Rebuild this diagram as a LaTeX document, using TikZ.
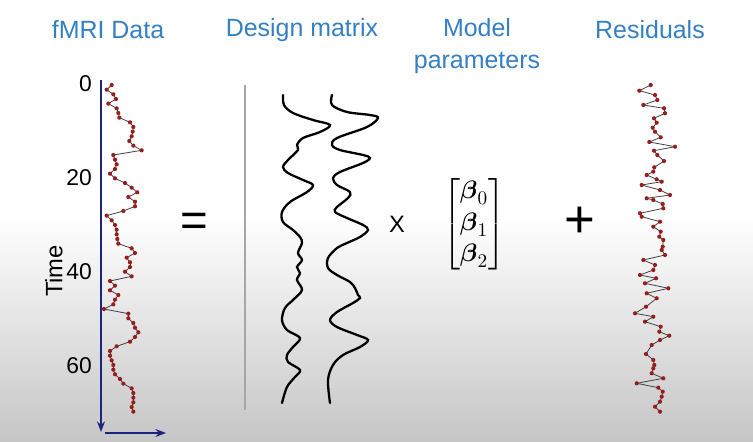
\documentclass[tikz,border=0pt]{standalone}
\usepackage{amsmath}
\usepackage{fontspec}
\setmainfont{Liberation Sans}
\usetikzlibrary{arrows.meta}

\definecolor{titleblue}{RGB}{52,128,196}
\definecolor{axisnavy}{RGB}{28,36,128}
\definecolor{dotred}{RGB}{150,30,30}

% fMRI samples, one per time step
\newcommand{\fmrivals}{335,320,340,348,325,350,355,358,390,400,398,395,388,400,425,340,345,350,345,330,345,375,395,412,385,405,405,370,320,335,345,350,350,352,355,395,405,380,390,390,375,395,330,345,330,355,345,340,312,385,385,400,405,415,405,390,350,330,330,335,340,340,345,360,370,395,400,400,400,395,400}

\begin{document}
\begin{tikzpicture}[x=0.02cm,y=-0.02cm]
  \tikzstyle{title}=[text=titleblue,font=\fontsize{14.2}{18}\selectfont,align=center]
  \tikzstyle{tick}=[anchor=east,font=\fontsize{13}{15}\selectfont]
  \tikzstyle{series}=[gray!50!black,line width=0.45pt]
  \tikzstyle{reddot}=[fill=dotred]
  \tikzstyle{wave}=[line width=1.3pt,line cap=round]
  \tikzstyle{axis}=[axisnavy,line width=1.3pt]

  % background
  \fill[white] (0,0) rectangle (753,442);
  \shade[top color=white,bottom color=gray!45] (0,215) rectangle (753,442);
  \useasboundingbox (0,0) rectangle (753,442);

  % titles
  \node[title] (data) at (108,30) {fMRI Data};
  \node[title] (design) at (302,30) {Design matrix};
  \node[title] (params) at (477,46) {Model\\parameters};
  \node[title] (resid) at (650,30) {Residuals};

  % axes
  \coordinate (ytop) at (101,80);
  \coordinate (origin) at (101,432);
  \coordinate (xstart) at (105,433);
  \coordinate (xend) at (166,433);
  \draw[axis,-{Stealth[length=6pt]}] (ytop) -- (origin);
  \draw[axis,-{Stealth[length=6pt]}] (xstart) -- (xend);
  \foreach \t in {0,20,40,60}
    \node[tick] (t\t) at (98,{84+4.7*\t}) {\t};
  \node[rotate=90,font=\fontsize{13.5}{15}\selectfont] (time) at (54,271) {Time};

  % data
  \begin{scope}[scale=1/3]
    \foreach \x [count=\i from 0] in \fmrivals
      \coordinate (d\i) at (\x,{255+14*\i});
  \end{scope}
  \foreach \i [evaluate=\i as \j using int(\i-1)] in {1,...,70}
    \draw[series] (d\j) -- (d\i);
  \foreach \i in {0,...,70}
    \fill[reddot] (d\i) circle (1.2pt);

  \node[font=\fontsize{27}{30}\selectfont] (eq) at (194,225) {=};

  % design matrix
  \coordinate (ltop) at (245,85);
  \coordinate (lbot) at (245,410);
  \draw[gray!70,line width=0.8pt] (ltop) -- (lbot);
  \draw[wave] plot[smooth,tension=0.55] coordinates {(283,95) (284,105) (293,113)
    (313,120) (330,125) (320,132) (303,138) (297,145) (298,150) (288,160)
    (283,167) (288,173) (303,180) (313,185) (307,192) (290,202) (282,212)
    (283,222) (293,230) (300,237) (302,243) (298,253) (302,260) (297,267)
    (300,273) (297,280) (302,290) (293,300) (285,308) (282,320) (287,330)
    (300,338) (293,347) (287,355) (288,362) (300,370) (295,377) (287,387)
    (282,403)};
  \draw[wave] plot[smooth,tension=0.55] coordinates {(332,95) (332,105) (347,112)
    (370,115) (378,118) (367,127) (337,138) (332,145) (340,150) (363,155)
    (370,158) (363,163) (340,172) (333,178) (337,185) (350,192) (348,198)
    (337,207) (335,212) (347,218) (363,225) (368,230) (360,237) (347,243)
    (337,248) (328,258) (328,268) (337,275) (350,282) (355,288) (358,295)
    (360,298) (353,303) (337,312) (330,320) (337,327) (357,335) (368,340)
    (360,347) (343,355) (333,365) (328,380) (330,403)};

  \node[font=\fontsize{13.5}{15}\selectfont] (times) at (397,224) {X};
  \node (beta) at (474,224) {\fontsize{15}{18}\selectfont$\begin{bmatrix}
    \boldsymbol\beta_0\\ \boldsymbol\beta_1\\ \boldsymbol\beta_2\end{bmatrix}$};
  \node[font=\fontsize{30}{32}\selectfont] (plus) at (580,222) {+};

  % residuals
  \foreach \x/\y [count=\i] in {650.7/85,639.3/90.7,655/95,657.3/100,643.3/105,
    664/108.3,665/113.3,654/118.3,656.7/122.7,652.7/127.7,655/131.7,660.7/137.3,
    649.3/142,675/146.7,654/150.7,657.3/155,664/161,654.3/167.3,653.3/171.7,
    646.7/175,656.7/179.3,661.7/181.7,641.7/185,660/190,670/195,646.7/198.3,
    653.3/200,662.7/204,663.3/208.3,640/213.3,641.7/216.7,660/221.7,653.3/226.7,
    660.7/231.7,659.3/236.7,663.3/240,662.7/246.7,661.7/250,665/255,643.3/260,
    655/265,653.3/270,640/275,656/278.3,645/283.3,668.3/288.3,646.7/293.3,
    656.7/298.3,646/306.7,635/313.3,653.3/316.7,645/321.7,660.7/326.7,
    659.3/331.7,669.3/335.7,660/340,651.7/345,646/354,653.3/360,654.3/365,
    653.3/368.3,651.7/373.3,663.3/378.3,636.7/383.3,658.3/387.7,662.7/391.7,
    661.7/396.7,660/401.7,655/406.7,660/411.7}
    \coordinate (r\i) at (\x,\y);
  \foreach \i [evaluate=\i as \j using int(\i-1)] in {2,...,70}
    \draw[series] (r\j) -- (r\i);
  \foreach \i in {1,...,70}
    \fill[reddot] (r\i) circle (1.2pt);
\end{tikzpicture}
\end{document}
